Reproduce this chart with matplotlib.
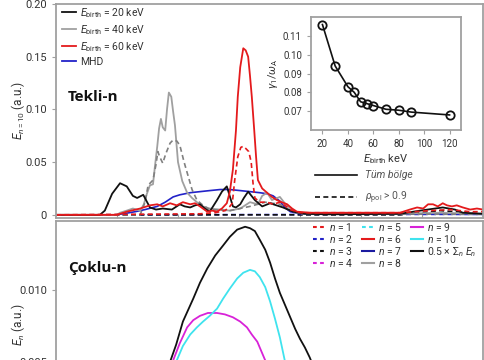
import matplotlib
matplotlib.use("Agg")
import matplotlib.pyplot as plt
from matplotlib.lines import Line2D

plt.rcParams["font.family"] = ["Roboto", "DejaVu Sans"]
plt.rcParams["mathtext.fontset"] = "custom"
plt.rcParams["mathtext.rm"] = "Roboto"
plt.rcParams["mathtext.it"] = "Roboto:italic"
plt.rcParams["mathtext.bf"] = "Roboto:bold"

# ---- top panel: single-n (n = 10) energy, arbitrary x units ----
x_20 = [0, 0.72, 0.80, 0.92, 1.05, 1.16, 1.26, 1.33, 1.43, 1.54, 1.64, 1.75, 1.90, 2.03, 2.11,
        2.20, 2.28, 2.36, 2.44, 2.52, 2.64, 2.72, 2.80, 2.90, 2.95, 3.02, 3.08, 3.15, 3.26, 3.38,
        3.51, 3.72, 3.89, 4.08, 4.49, 5.64, 5.97, 6.34, 6.54, 6.67, 7.00]
e_20 = [0, 0, 0.004, 0.020, 0.030, 0.027, 0.018, 0.016, 0.019, 0.007, 0.005, 0.006, 0.005, 0.010, 0.008,
        0.007, 0.009, 0.010, 0.006, 0.003, 0.014, 0.022, 0.027, 0.008, 0.007, 0.010, 0.016, 0.022, 0.014, 0.008,
        0.011, 0.007, 0.003, 0.001, 0.0005, 0.001, 0.004, 0.007, 0.005, 0.002, 0.001]
x_20d = [0, 5.64, 6.30, 7.00]
e_20d = [0, 0, 0.004, 0.001]

x_40 = [0, 1.00, 1.05, 1.16, 1.26, 1.38, 1.44, 1.49, 1.54, 1.59, 1.62, 1.66, 1.69, 1.72, 1.75,
        1.79, 1.82, 1.85, 1.89, 1.92, 1.95, 2.00, 2.07, 2.15, 2.23, 2.31, 2.41, 2.52, 2.69, 2.85,
        3.02, 3.18, 3.31, 3.38, 3.46, 3.54, 3.67, 3.75, 3.84, 3.95, 4.16, 5.64, 6.30, 7.00]
e_40 = [0, 0, 0.002, 0.004, 0.006, 0.004, 0.010, 0.020, 0.028, 0.029, 0.045, 0.065, 0.082, 0.091, 0.083,
        0.080, 0.100, 0.116, 0.112, 0.098, 0.085, 0.050, 0.032, 0.021, 0.016, 0.012, 0.008, 0.006, 0.005, 0.004,
        0.006, 0.012, 0.010, 0.018, 0.021, 0.014, 0.017, 0.011, 0.006, 0.002, 0.001, 0.001, 0.002, 0.001]
x_40d = [0, 1.38, 1.46, 1.51, 1.59, 1.64, 1.67, 1.70, 1.75, 1.80, 1.87, 1.92, 1.98, 2.03, 2.10,
         2.15, 2.23, 2.31, 2.41, 2.52, 2.85, 3.18, 3.43, 3.67, 3.84, 4.00, 7.00]
e_40d = [0, 0, 0.012, 0.028, 0.033, 0.048, 0.060, 0.055, 0.049, 0.058, 0.068, 0.071, 0.070, 0.066, 0.050,
         0.040, 0.024, 0.014, 0.009, 0.005, 0.004, 0.008, 0.012, 0.010, 0.004, 0.001, 0.0005]

x_60 = [0, 1.00, 1.16, 1.38, 1.54, 1.66, 1.75, 1.87, 1.98, 2.08, 2.20, 2.28, 2.36, 2.48, 2.56,
        2.64, 2.72, 2.80, 2.85, 2.90, 2.95, 2.98, 3.02, 3.07, 3.11, 3.15, 3.18, 3.21, 3.25, 3.28,
        3.31, 3.38, 3.46, 3.54, 3.62, 3.70, 3.79, 3.87, 3.95, 4.16, 4.82, 5.64, 5.80, 5.92, 6.02,
        6.10, 6.18, 6.26, 6.34, 6.41, 6.49, 6.57, 6.67, 6.79, 6.90, 7.00]
e_60 = [0, 0, 0.003, 0.006, 0.009, 0.010, 0.008, 0.011, 0.009, 0.012, 0.010, 0.011, 0.008, 0.003, 0.004,
        0.003, 0.006, 0.011, 0.022, 0.043, 0.080, 0.112, 0.140, 0.158, 0.156, 0.150, 0.132, 0.112, 0.080, 0.055,
        0.033, 0.025, 0.021, 0.017, 0.014, 0.012, 0.010, 0.006, 0.003, 0.002, 0.002, 0.002, 0.005, 0.007, 0.006,
        0.010, 0.010, 0.008, 0.011, 0.009, 0.008, 0.009, 0.007, 0.005, 0.006, 0.005]
x_60d = [0, 2.36, 2.61, 2.77, 2.85, 2.89, 2.93, 2.98, 3.03, 3.07, 3.11, 3.16, 3.20, 3.23, 3.26,
         3.34, 3.46, 3.56, 3.67, 3.75, 3.84, 4.00, 5.64, 6.13, 6.46, 6.79, 7.00]
e_60d = [0, 0.001, 0.002, 0.004, 0.008, 0.011, 0.033, 0.055, 0.064, 0.065, 0.063, 0.060, 0.050, 0.030, 0.016,
         0.012, 0.012, 0.010, 0.012, 0.009, 0.005, 0.002, 0.002, 0.004, 0.005, 0.003, 0.003]

x_mhd = [0, 0.97, 1.10, 1.30, 1.46, 1.66, 1.79, 1.92, 2.03, 2.20, 2.36, 2.52, 2.69, 2.85, 3.02,
         3.18, 3.34, 3.46, 3.56, 3.67, 3.75, 3.84, 4.00, 7.00]
e_mhd = [0, 0, 0.001, 0.003, 0.005, 0.008, 0.012, 0.017, 0.019, 0.021, 0.022, 0.023, 0.024, 0.024, 0.023,
         0.022, 0.021, 0.020, 0.018, 0.013, 0.007, 0.003, 0.001, 0.0005]
x_mhdd = [0, 7.00]
e_mhdd = [0, 0.0005]

# ---- bottom panel: multi-n ----
x_sum = [1.21, 1.46, 1.70, 1.87, 1.97, 2.08, 2.25, 2.36, 2.48, 2.61, 2.74, 2.85, 2.97, 3.10, 3.18,
         3.26, 3.34, 3.43, 3.51, 3.59, 3.67, 3.75, 3.84, 3.92, 4.00, 4.08, 4.16, 4.33, 4.57, 4.82]
e_sum = [0, 0.0015, 0.0035, 0.0050, 0.0062, 0.0078, 0.0094, 0.0105, 0.0115, 0.0124, 0.0131, 0.0137, 0.0142,
         0.0144, 0.0143, 0.0141, 0.0135, 0.0128, 0.0119, 0.0108, 0.0098, 0.0090, 0.0081, 0.0073, 0.0066,
         0.0060, 0.0053, 0.0035, 0.0015, 0]
x_n10 = [1.38, 1.62, 1.84, 1.98, 2.08, 2.20, 2.31, 2.41, 2.52, 2.64, 2.74, 2.85, 2.97, 3.07, 3.18,
         3.26, 3.34, 3.43, 3.51, 3.59, 3.67, 3.75, 3.84, 4.00, 4.16]
e_n10 = [0, 0.0015, 0.0035, 0.0051, 0.0061, 0.0069, 0.0074, 0.0078, 0.0082, 0.0087, 0.0094, 0.0101, 0.0108,
         0.0112, 0.0114, 0.0113, 0.0109, 0.0102, 0.0092, 0.0080, 0.0067, 0.0051, 0.0035, 0.0010, 0]
x_n9 = [1.30, 1.54, 1.75, 1.92, 2.03, 2.15, 2.25, 2.36, 2.49, 2.64, 2.77, 2.90, 3.02, 3.13, 3.21,
        3.30, 3.36, 3.43, 3.54, 3.75, 3.92]
e_n9 = [0, 0.0015, 0.0035, 0.0051, 0.0063, 0.0074, 0.0079, 0.0082, 0.0084, 0.0084, 0.0083, 0.0081, 0.0078,
        0.0074, 0.0069, 0.0064, 0.0058, 0.0051, 0.0035, 0.0010, 0]

# ---- inset: growth rate vs birth energy ----
e_birth = [20, 30, 40, 45, 50, 55, 60, 70, 80, 90, 120]
gamma = [0.116, 0.094, 0.083, 0.080, 0.075, 0.074, 0.073, 0.071, 0.0705, 0.0695, 0.068]

RED, BLUE, GRAY, BLACK = "#e41a1c", "#2222c8", "#a0a0a0", "#111111"
MAG, CYAN = "#d822d8", "#3fe3ee"
SPINE = "#a0a0a0"
TXT = "#333333"

W, H = 485, 360
fig = plt.figure(figsize=(W / 100, H / 100), dpi=100)


def style(ax):
    for s in ax.spines.values():
        s.set_color(SPINE)
        s.set_linewidth(1.3)
    ax.tick_params(colors=SPINE, labelcolor=TXT, labelsize=8, length=3, width=0.8)


# top panel
ax1 = fig.add_axes([56 / W, 1 - 218 / H, 427 / W, 214 / H])
style(ax1)
ax1.plot(x_mhdd, e_mhdd, color=BLUE, lw=1.2, ls=(0, (3, 2)))
ax1.plot(x_20d, e_20d, color=BLACK, lw=1.2, ls=(0, (3, 2)))
ax1.plot(x_mhd, e_mhd, color=BLUE, lw=1.2, label="MHD")
ax1.plot(x_40, e_40, color=GRAY, lw=1.3)
ax1.plot(x_40d, e_40d, color="#808080", lw=1.2, ls=(0, (3, 2)))
ax1.plot(x_20, e_20, color=BLACK, lw=1.3)
ax1.plot(x_60d, e_60d, color=RED, lw=1.2, ls=(0, (3, 2)))
ax1.plot(x_60, e_60, color=RED, lw=1.3)
ax1.set_xlim(0, 7)
ax1.set_ylim(-0.003, 0.2)
ax1.set_xticks(range(1, 7))
ax1.tick_params(axis="x", direction="in", labelbottom=False)
ax1.set_yticks([0, 0.05, 0.10, 0.15, 0.20])
ax1.set_yticklabels(["0", "0.05", "0.10", "0.15", "0.20"])

h_top = [Line2D([], [], color=BLACK, lw=1.3), Line2D([], [], color=GRAY, lw=1.3),
         Line2D([], [], color=RED, lw=1.3), Line2D([], [], color=BLUE, lw=1.3)]
l_top = [r"$E_\mathrm{birth}$ = 20 keV", r"$E_\mathrm{birth}$ = 40 keV",
         r"$E_\mathrm{birth}$ = 60 keV", "MHD"]
leg1 = ax1.legend(h_top, l_top, loc="upper left", bbox_to_anchor=(0.0, 1.02), frameon=False,
                  fontsize=7.5, handlelength=1.3, handletextpad=0.4, labelspacing=0.3,
                  borderaxespad=0.2)
for t in leg1.get_texts():
    t.set_color(TXT)
ax1.add_artist(leg1)

h_reg = [Line2D([], [], color=BLACK, lw=1.2), Line2D([], [], color=BLACK, lw=1.2, ls=(0, (3, 2)))]
leg2 = ax1.legend(h_reg, ["Tüm bölge", r"$\rho_\mathrm{pol}$ > 0.9"], loc="upper left",
                  bbox_to_anchor=(250 / 427, 57 / 214), frameon=False, fontsize=7.5,
                  handlelength=4.0, handletextpad=0.8, labelspacing=0.9)
for t in leg2.get_texts():
    t.set_color("#555555")
leg2.get_texts()[0].set_style("italic")

ax1.text(12 / 427, 1 - 93 / 214, "Tekli-n", transform=ax1.transAxes, fontsize=11,
         fontweight="bold", family="Open Sans", color="#111111", va="center")

# inset
axi = fig.add_axes([311 / W, 1 - 130 / H, 150 / W, 113 / H])
style(axi)
axi.tick_params(labelsize=7)
axi.plot(e_birth, gamma, color=BLACK, lw=1.2, marker="o", ms=6, mfc="none", mec=BLACK, mew=1.3)
axi.set_xlim(11, 129)
axi.set_ylim(0.060, 0.120)
axi.set_xticks([20, 40, 60, 80, 100, 120])
axi.set_yticks([0.07, 0.08, 0.09, 0.10, 0.11])
axi.set_yticklabels(["0.07", "0.08", "0.09", "0.10", "0.11"])
axi.set_xlabel(r"$E_\mathrm{birth}$ keV", fontsize=8, color=TXT, labelpad=2)
axi.set_ylabel(r"$\gamma_1/\omega_\mathrm{A}$", fontsize=8, color=TXT, labelpad=2)

# bottom panel
ax2 = fig.add_axes([56 / W, 1 - 438 / H, 427 / W, 217 / H])
style(ax2)
ax2.plot(x_n9, e_n9, color=MAG, lw=1.3)
ax2.plot(x_n10, e_n10, color=CYAN, lw=1.3)
ax2.plot(x_sum, e_sum, color=BLACK, lw=1.3)
ax2.set_xlim(0, 7)
ax2.set_ylim(-0.0003, 0.0148)
ax2.set_xticks([])
ax2.set_yticks([0, 0.005, 0.010])
ax2.set_yticklabels(["0", "0.005", "0.010"])
ax2.text(12 / 427, 1 - 47 / 217, "Çoklu-n", transform=ax2.transAxes, fontsize=11,
         fontweight="bold", family="Open Sans", color="#111111", va="center")

dash = (0, (1.8, 1.6))
h_n = [Line2D([], [], color=RED, lw=1.5, ls=dash), Line2D([], [], color=BLUE, lw=1.5, ls=dash),
       Line2D([], [], color=BLACK, lw=1.5, ls=dash), Line2D([], [], color=MAG, lw=1.5, ls=dash),
       Line2D([], [], color=CYAN, lw=1.5, ls=dash), Line2D([], [], color=RED, lw=1.5),
       Line2D([], [], color="#1a1aa0", lw=1.5), Line2D([], [], color=GRAY, lw=1.5),
       Line2D([], [], color=MAG, lw=1.5), Line2D([], [], color=CYAN, lw=1.5),
       Line2D([], [], color=BLACK, lw=1.5)]
l_n = [r"$n$ = %d" % k for k in range(1, 11)] + [r"0.5 × $\Sigma_n\ E_n$"]
leg3 = ax2.legend(h_n, l_n, ncol=3, loc="upper right", bbox_to_anchor=(1.0, 1.03), frameon=False,
                  fontsize=7.5, handlelength=1.2, handletextpad=0.4, labelspacing=0.0,
                  columnspacing=0.8, borderaxespad=0.2)
for t in leg3.get_texts():
    t.set_color(TXT)

fig.text(18 / W, 1 - 110 / H, r"$E_{n=10}$ (a.u.)", rotation=90, ha="center", va="center",
         fontsize=8.5, color=TXT)
fig.text(18 / W, 1 - 325 / H, r"$E_n$ (a.u.)", rotation=90, ha="center", va="center",
         fontsize=8.5, color=TXT)

fig.savefig("out.png", dpi=100)
